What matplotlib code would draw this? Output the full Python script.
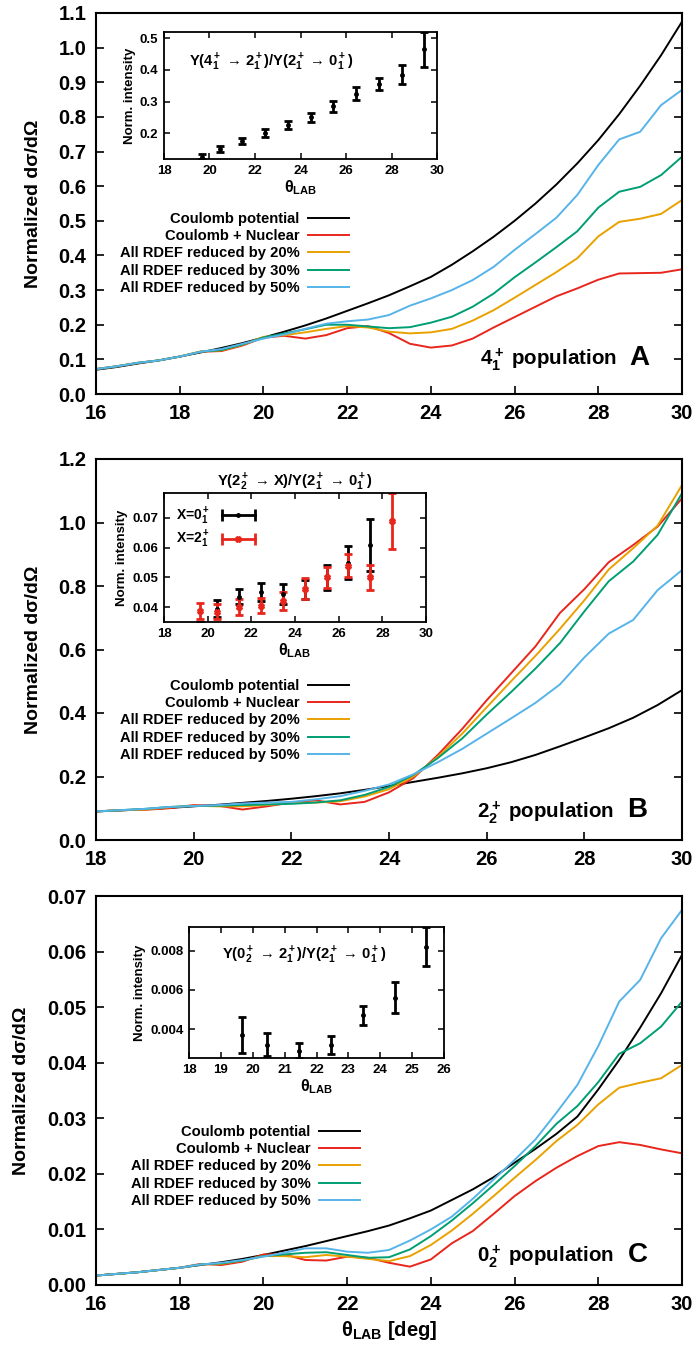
import matplotlib
matplotlib.use('Agg')
import matplotlib.pyplot as plt
from matplotlib.ticker import FormatStrFormatter
from matplotlib.lines import Line2D
from matplotlib.legend_handler import HandlerLine2D, HandlerTuple

plt.rcParams['font.family'] = ['Liberation Sans', 'DejaVu Sans']
plt.rcParams['font.weight'] = 'bold'
plt.rcParams['axes.labelweight'] = 'bold'
plt.rcParams['axes.titleweight'] = 'bold'
plt.rcParams['mathtext.fontset'] = 'custom'
plt.rcParams['mathtext.rm'] = 'Liberation Sans:bold'
plt.rcParams['mathtext.it'] = 'Liberation Sans:bold'
plt.rcParams['mathtext.bf'] = 'Liberation Sans:bold'
plt.rcParams['mathtext.default'] = 'rm'

# ---- data ----
labels = ['Coulomb potential', 'Coulomb + Nuclear', 'All RDEF reduced by 20%',
          'All RDEF reduced by 30%', 'All RDEF reduced by 50%']
colors = ['#000000', '#e8261c', '#e9a100', '#009e73', '#56b4e9']

# panel A: 4_1+ population
theta_a = [16, 16.5, 17, 17.5, 18, 18.5, 19, 19.5, 20, 20.5, 21, 21.5, 22, 22.5, 23,
           23.5, 24, 24.5, 25, 25.5, 26, 26.5, 27, 27.5, 28, 28.5, 29, 29.5, 30]
a_coul = [0.070, 0.078, 0.088, 0.097, 0.108, 0.120, 0.133, 0.147, 0.163, 0.180, 0.198, 0.218, 0.240, 0.262, 0.285,
          0.311, 0.338, 0.373, 0.412, 0.454, 0.500, 0.550, 0.605, 0.666, 0.733, 0.808, 0.890, 0.978, 1.075]
a_nucl = [0.072, 0.080, 0.090, 0.097, 0.108, 0.122, 0.124, 0.140, 0.163, 0.168, 0.160, 0.170, 0.190, 0.196, 0.176,
          0.145, 0.134, 0.140, 0.160, 0.192, 0.222, 0.252, 0.282, 0.305, 0.330, 0.348, 0.349, 0.350, 0.360]
a_r20 = [0.072, 0.080, 0.090, 0.097, 0.108, 0.123, 0.126, 0.142, 0.165, 0.170, 0.178, 0.188, 0.196, 0.192, 0.180,
         0.175, 0.178, 0.188, 0.212, 0.242, 0.278, 0.315, 0.352, 0.392, 0.455, 0.497, 0.506, 0.520, 0.560]
a_r30 = [0.072, 0.080, 0.090, 0.097, 0.108, 0.122, 0.127, 0.143, 0.163, 0.175, 0.187, 0.200, 0.200, 0.195, 0.190,
         0.193, 0.206, 0.223, 0.252, 0.290, 0.337, 0.380, 0.424, 0.470, 0.538, 0.584, 0.598, 0.632, 0.685]
a_r50 = [0.072, 0.080, 0.090, 0.097, 0.108, 0.122, 0.130, 0.145, 0.160, 0.172, 0.188, 0.203, 0.210, 0.215, 0.228,
         0.255, 0.276, 0.300, 0.329, 0.367, 0.416, 0.462, 0.509, 0.575, 0.661, 0.735, 0.757, 0.834, 0.878]

# panel B: 2_2+ population
theta_b = [18, 18.5, 19, 19.5, 20, 20.5, 21, 21.5, 22, 22.5, 23, 23.5, 24, 24.5, 25,
           25.5, 26, 26.5, 27, 27.5, 28, 28.5, 29, 29.5, 30]
b_coul = [0.090, 0.093, 0.097, 0.101, 0.106, 0.111, 0.117, 0.123, 0.130, 0.138, 0.147, 0.158, 0.170, 0.183, 0.196,
          0.210, 0.226, 0.245, 0.268, 0.295, 0.323, 0.352, 0.385, 0.425, 0.472]
b_nucl = [0.090, 0.094, 0.095, 0.100, 0.110, 0.108, 0.096, 0.106, 0.118, 0.125, 0.112, 0.120, 0.150, 0.195, 0.268,
          0.350, 0.440, 0.525, 0.610, 0.715, 0.790, 0.875, 0.929, 0.987, 1.076]
b_r20 = [0.090, 0.094, 0.096, 0.103, 0.108, 0.106, 0.106, 0.110, 0.116, 0.118, 0.122, 0.137, 0.160, 0.200, 0.262,
         0.335, 0.418, 0.500, 0.580, 0.665, 0.755, 0.852, 0.919, 0.990, 1.118]
b_r30 = [0.090, 0.094, 0.098, 0.104, 0.107, 0.108, 0.110, 0.112, 0.114, 0.118, 0.125, 0.142, 0.167, 0.205, 0.258,
         0.320, 0.395, 0.466, 0.540, 0.620, 0.720, 0.815, 0.877, 0.961, 1.092]
b_r50 = [0.090, 0.094, 0.098, 0.104, 0.107, 0.110, 0.115, 0.118, 0.120, 0.128, 0.138, 0.155, 0.175, 0.207, 0.245,
         0.287, 0.335, 0.383, 0.432, 0.490, 0.575, 0.650, 0.693, 0.787, 0.850]

# panel C: 0_2+ population
theta_c = theta_a
c_coul = [0.0017, 0.0020, 0.0023, 0.0027, 0.0031, 0.0036, 0.0041, 0.0047, 0.0054, 0.0062, 0.0070, 0.0079, 0.0088,
          0.0097, 0.0107, 0.0120, 0.0134, 0.0153, 0.0172, 0.0194, 0.0220, 0.0245, 0.0272, 0.0303, 0.0352, 0.0405,
          0.0463, 0.0525, 0.0594]
c_nucl = [0.0017, 0.0020, 0.0023, 0.0027, 0.0031, 0.0038, 0.0036, 0.0042, 0.0055, 0.0055, 0.0045, 0.0044, 0.0051,
          0.0049, 0.0040, 0.0033, 0.0046, 0.0075, 0.0097, 0.0128, 0.0160, 0.0187, 0.0211, 0.0232, 0.0250, 0.0257,
          0.0252, 0.0244, 0.0237]
c_r20 = [0.0017, 0.0020, 0.0023, 0.0027, 0.0031, 0.0037, 0.0038, 0.0044, 0.0052, 0.0052, 0.0050, 0.0054, 0.0051,
         0.0047, 0.0043, 0.0052, 0.0072, 0.0098, 0.0128, 0.0160, 0.0193, 0.0225, 0.0259, 0.0288, 0.0325, 0.0355,
         0.0364, 0.0372, 0.0396]
c_r30 = [0.0017, 0.0020, 0.0023, 0.0027, 0.0031, 0.0037, 0.0039, 0.0044, 0.0052, 0.0055, 0.0058, 0.0059, 0.0054,
         0.0049, 0.0050, 0.0064, 0.0088, 0.0116, 0.0147, 0.0180, 0.0214, 0.0250, 0.0290, 0.0322, 0.0365, 0.0416,
         0.0435, 0.0465, 0.0510]
c_r50 = [0.0017, 0.0020, 0.0023, 0.0027, 0.0031, 0.0037, 0.0040, 0.0045, 0.0051, 0.0058, 0.0066, 0.0066, 0.0060,
         0.0058, 0.0063, 0.0080, 0.0100, 0.0123, 0.0155, 0.0190, 0.0225, 0.0262, 0.0310, 0.0360, 0.0430, 0.0510,
         0.0549, 0.0624, 0.0675]

# insets: measured intensity ratios
ins_theta = [19.65, 20.45, 21.45, 22.45, 23.45, 24.45, 25.45, 26.45, 27.45, 28.45, 29.45]
ins_a = [0.125, 0.150, 0.175, 0.200, 0.225, 0.250, 0.285, 0.325, 0.355, 0.385, 0.465]
ins_a_err = [0.008, 0.010, 0.011, 0.012, 0.013, 0.014, 0.018, 0.020, 0.020, 0.030, 0.055]

ins_b0_theta = [19.65, 20.45, 21.45, 22.45, 23.45, 24.45, 25.45, 26.45, 27.45]
ins_b0 = [0.0330, 0.0395, 0.0435, 0.0450, 0.0445, 0.0460, 0.0500, 0.0550, 0.0610]
ins_b0_err = [0.0020, 0.0028, 0.0025, 0.0030, 0.0033, 0.0032, 0.0042, 0.0055, 0.0087]
ins_b2_theta = [19.65, 20.45, 21.45, 22.45, 23.45, 24.45, 25.45, 26.45, 27.45, 28.45]
ins_b2 = [0.0388, 0.0385, 0.0400, 0.0405, 0.0420, 0.0462, 0.0500, 0.0540, 0.0500, 0.0690]
ins_b2_err = [0.0027, 0.0025, 0.0027, 0.0025, 0.0030, 0.0035, 0.0036, 0.0038, 0.0042, 0.0095]

ins_c_theta = [19.65, 20.45, 21.45, 22.45, 23.45, 24.45, 25.45]
ins_c = [0.0037, 0.0032, 0.0029, 0.0032, 0.0047, 0.0056, 0.0082]
ins_c_err = [0.0009, 0.0006, 0.0004, 0.00045, 0.0005, 0.0008, 0.0010]

W, H = 699, 1358
RED = '#e8261c'


def fig_rect(x0, y0, x1, y1):
    # pixel box -> figure fraction rect
    return [x0 / W, 1 - y1 / H, (x1 - x0) / W, (y1 - y0) / H]


def style_main(ax):
    for s in ax.spines.values():
        s.set_linewidth(1.5)
    ax.tick_params(direction='in', length=6, width=1.2, labelsize=14.5, pad=7,
                   right=True, top=False)


def style_inset(ax):
    for s in ax.spines.values():
        s.set_linewidth(1.3)
    ax.tick_params(direction='in', length=4, width=1.1, labelsize=9.5, pad=4,
                   right=True, top=True)
    ax.set_ylabel('Norm. intensity', fontsize=9.5, labelpad=3)
    ax.set_xlabel(r'θ$_{LAB}$', fontsize=11.5, labelpad=1)


def draw_models(ax, theta, series):
    for ys, lab, c in zip(series, labels, colors):
        ax.plot(theta, ys, color=c, lw=1.4, label=lab)


def main_legend(ax, fig, xr, ytop):
    ax.legend(loc='upper right', bbox_to_anchor=(xr / W, 1 - ytop / H), bbox_transform=fig.transFigure,
              frameon=False, markerfirst=False, fontsize=10.6, handlelength=2.8, handletextpad=0.55,
              labelspacing=0.22, borderpad=0, borderaxespad=0)


def errbar(ax, x, y, err, color, marker, ms):
    ax.errorbar(x, y, yerr=err, fmt=marker, ms=ms, color=color, ecolor=color,
                elinewidth=2, capsize=3, capthick=2)


def panel_tag(ax, state, letter, x_text, x_letter, y):
    ax.text(x_text, y, state + ' population', transform=ax.transAxes, ha='right', va='center', fontsize=14.8)
    ax.text(x_letter, y + 0.005, letter, transform=ax.transAxes, ha='right', va='center', fontsize=20)


fig = plt.figure(figsize=(6.99, 13.58), dpi=100)

# ---------- panel A ----------
axA = fig.add_axes(fig_rect(96, 13, 682, 394))
draw_models(axA, theta_a, [a_coul, a_nucl, a_r20, a_r30, a_r50])
axA.set_xlim(16, 30)
axA.set_ylim(0, 1.1)
axA.set_xticks(range(16, 31, 2))
axA.set_yticks([i / 10 for i in range(12)])
axA.yaxis.set_major_formatter(FormatStrFormatter('%.1f'))
style_main(axA)
axA.set_ylabel('Normalized dσ/dΩ', fontsize=14, labelpad=12)
main_legend(axA, fig, 349, 212)
panel_tag(axA, r'$4_1^+$', 'A', 0.889, 0.945, 0.09)

insA = fig.add_axes(fig_rect(164, 32, 437, 159))
errbar(insA, ins_theta, ins_a, ins_a_err, 'black', 'o', 2.5)
insA.set_xlim(18, 30)
insA.set_ylim(0.118, 0.52)
insA.set_xticks(range(18, 31, 2))
insA.set_yticks([0.2, 0.3, 0.4, 0.5])
insA.yaxis.set_major_formatter(FormatStrFormatter('%.1f'))
style_inset(insA)
insA.text(0.09, 0.76, r'Y($4_1^+$ → $2_1^+$)/Y($2_1^+$ → $0_1^+$)', transform=insA.transAxes,
          ha='left', va='center', fontsize=10.6)

# ---------- panel B ----------
axB = fig.add_axes(fig_rect(96, 459, 682, 840))
draw_models(axB, theta_b, [b_coul, b_nucl, b_r20, b_r30, b_r50])
axB.set_xlim(18, 30)
axB.set_ylim(0, 1.2)
axB.set_xticks(range(18, 31, 2))
axB.set_yticks([0, 0.2, 0.4, 0.6, 0.8, 1.0, 1.2])
axB.yaxis.set_major_formatter(FormatStrFormatter('%.1f'))
style_main(axB)
axB.set_ylabel('Normalized dσ/dΩ', fontsize=14, labelpad=12)
main_legend(axB, fig, 349, 679)
panel_tag(axB, r'$2_2^+$', 'B', 0.883, 0.940, 0.073)

insB = fig.add_axes(fig_rect(164, 493, 426, 622))
errbar(insB, ins_b0_theta, ins_b0, ins_b0_err, 'black', 'o', 2.5)
errbar(insB, ins_b2_theta, ins_b2, ins_b2_err, RED, 'X', 4)
insB.set_xlim(18, 30)
insB.set_ylim(0.035, 0.0784)
insB.set_xticks(range(18, 31, 2))
insB.set_yticks([0.04, 0.05, 0.06, 0.07])
insB.yaxis.set_major_formatter(FormatStrFormatter('%.2f'))
style_inset(insB)
insB.set_title(r'Y($2_2^+$ → X)/Y($2_1^+$ → $0_1^+$)', fontsize=10.6, pad=5)

# gnuplot-like key entries: horizontal bar with caps and a centre mark
hmap = {tuple: HandlerTuple(ndivide=1, pad=0)}
handles = []
for c, m, ms in [('black', 'o', 2.5), (RED, 'X', 4)]:
    bar = Line2D([], [], color=c, lw=2, marker='|', ms=8, mew=2)
    dot = Line2D([], [], color=c, lw=0, marker=m, ms=ms)
    hmap[bar] = HandlerLine2D(numpoints=2)
    hmap[dot] = HandlerLine2D(numpoints=1)
    handles.append((bar, dot))
insB.legend(handles, [r'X=$0_1^+$', r'X=$2_1^+$'], handler_map=hmap, loc='upper left',
            frameon=False, markerfirst=False, fontsize=10, handlelength=3.0,
            handletextpad=0.5, labelspacing=0.15, borderpad=0.3, borderaxespad=0.6)

# ---------- panel C ----------
axC = fig.add_axes(fig_rect(96, 896, 682, 1285))
draw_models(axC, theta_c, [c_coul, c_nucl, c_r20, c_r30, c_r50])
axC.set_xlim(16, 30)
axC.set_ylim(0, 0.07)
axC.set_xticks(range(16, 31, 2))
axC.set_yticks([i / 100 for i in range(8)])
axC.yaxis.set_major_formatter(FormatStrFormatter('%.2f'))
style_main(axC)
axC.set_ylabel('Normalized dσ/dΩ', fontsize=14, labelpad=12)
axC.set_xlabel(r'θ$_{LAB}$ [deg]', fontsize=14.5, labelpad=4)
main_legend(axC, fig, 360, 1125)
panel_tag(axC, r'$0_2^+$', 'C', 0.883, 0.942, 0.072)

insC = fig.add_axes(fig_rect(189, 927, 444, 1058))
errbar(insC, ins_c_theta, ins_c, ins_c_err, 'black', 'o', 2.5)
insC.set_xlim(18, 26)
insC.set_ylim(0.00252, 0.00922)
insC.set_xticks(range(18, 27))
insC.set_yticks([0.004, 0.006, 0.008])
insC.yaxis.set_major_formatter(FormatStrFormatter('%.3f'))
style_inset(insC)
insC.text(0.13, 0.78, r'Y($0_2^+$ → $2_1^+$)/Y($2_1^+$ → $0_1^+$)', transform=insC.transAxes,
          ha='left', va='center', fontsize=10.6)

fig.savefig('out.png', dpi=100)
